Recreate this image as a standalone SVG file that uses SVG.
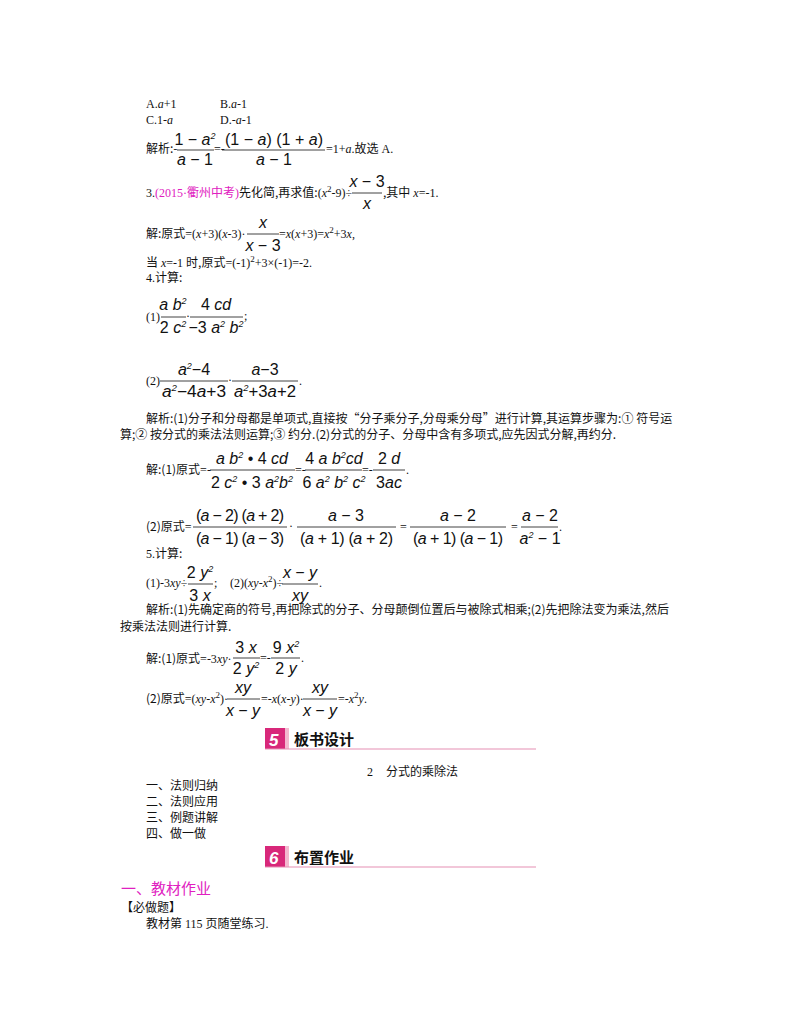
<svg xmlns="http://www.w3.org/2000/svg" width="800" height="1028" viewBox="0 0 800 1028">
<style>
text{font-family:"Liberation Serif","Noto Sans CJK SC",serif;font-size:12px;fill:#111}
.m{font-family:"Liberation Sans","Noto Sans CJK SC",sans-serif;font-size:16px;font-style:italic}
.n{font-style:normal}
.s{font-size:9px}
.c{font-family:"Noto Sans CJK SC",sans-serif}
.pk{fill:#e020c0}
.h{font-family:"Noto Sans CJK SC",sans-serif;font-size:15px;font-weight:bold}
.num{font-family:"Liberation Sans",sans-serif;font-size:17px;font-weight:bold;font-style:italic;fill:#fff}
line.b{stroke:#111;stroke-width:0.8}
</style>
<rect width="800" height="1028" fill="#fff"/>
<g id="q2">
<text x="146" y="108">A.<tspan font-style="italic">a</tspan>+1</text>
<text x="220" y="108">B.<tspan font-style="italic">a</tspan>-1</text>
<text x="146" y="124">C.1-<tspan font-style="italic">a</tspan></text>
<text x="220" y="124">D.-<tspan font-style="italic">a</tspan>-1</text>
<text x="146" y="153" class="c">解析:-</text>
<text x="195" y="145" class="m" text-anchor="middle"><tspan class="n">1 − </tspan>a<tspan class="s" dy="-6">2</tspan></text>
<line class="b" x1="177" y1="150" x2="214" y2="150"/>
<text x="195" y="165" class="m" text-anchor="middle">a<tspan class="n"> − 1</tspan></text>
<text x="214" y="153">=-</text>
<text x="225" y="145" class="m" textLength="98" lengthAdjust="spacing"><tspan class="n">(1 − </tspan>a<tspan class="n">)  (1 + </tspan>a<tspan class="n">)</tspan></text>
<line class="b" x1="222" y1="150" x2="325" y2="150"/>
<text x="274" y="165" class="m" text-anchor="middle">a<tspan class="n"> − 1</tspan></text>
<text x="326" y="153">=1+<tspan font-style="italic">a</tspan>.<tspan class="c">故选</tspan> A.</text>
</g>
<g id="q3">
<text x="146" y="197">3.<tspan class="pk">(2015·<tspan class="c">衢州中考</tspan>)</tspan><tspan class="c">先化简,再求值:</tspan>(<tspan font-style="italic">x</tspan><tspan class="s" dy="-5">2</tspan><tspan dy="5">-9)÷</tspan></text>
<text x="367" y="187" class="m" text-anchor="middle">x<tspan class="n"> − 3</tspan></text>
<line class="b" x1="352" y1="193" x2="382" y2="193"/>
<text x="367" y="209" class="m" text-anchor="middle">x</text>
<text x="383" y="197"><tspan class="c">,其中</tspan> <tspan font-style="italic">x</tspan>=-1.</text>
<text x="146" y="238"><tspan class="c">解:原式</tspan>=(<tspan font-style="italic">x</tspan>+3)(<tspan font-style="italic">x</tspan>-3)·</text>
<text x="263" y="228" class="m" text-anchor="middle">x</text>
<line class="b" x1="247" y1="234" x2="279" y2="234"/>
<text x="263" y="251" class="m" text-anchor="middle">x<tspan class="n"> − 3</tspan></text>
<text x="279" y="238">=<tspan font-style="italic">x</tspan>(<tspan font-style="italic">x</tspan>+3)=<tspan font-style="italic">x</tspan><tspan class="s" dy="-5">2</tspan><tspan dy="5">+3</tspan><tspan font-style="italic">x</tspan>,</text>
<text x="146" y="267"><tspan class="c">当</tspan> <tspan font-style="italic">x</tspan>=-1 <tspan class="c">时,原式</tspan>=(-1)<tspan class="s" dy="-5">2</tspan><tspan dy="5">+3×(-1)=-2.</tspan></text>
</g>
<g id="q4">
<text x="146" y="282">4.<tspan class="c">计算:</tspan></text>
<text x="146" y="321">(1)</text>
<text x="173" y="310" class="m" text-anchor="middle">a b<tspan class="s" dy="-6">2</tspan></text>
<line class="b" x1="161" y1="317" x2="186" y2="317"/>
<text x="173" y="333" class="m" text-anchor="middle"><tspan class="n">2 </tspan>c<tspan class="s" dy="-6">2</tspan></text>
<text x="186" y="320">·</text>
<text x="216" y="310" class="m" text-anchor="middle"><tspan class="n">4 </tspan>cd</text>
<line class="b" x1="190" y1="317" x2="243" y2="317"/>
<text x="216" y="333" class="m" text-anchor="middle"><tspan class="n">−3 </tspan>a<tspan class="s" dy="-6">2</tspan><tspan dy="6"> b</tspan><tspan class="s" dy="-6">2</tspan></text>
<text x="244" y="320">;</text>
<text x="146" y="385">(2)</text>
<text x="194" y="375" class="m" text-anchor="middle">a<tspan class="s" dy="-6">2</tspan><tspan class="n" dy="6">−4</tspan></text>
<line class="b" x1="160" y1="381" x2="228" y2="381"/>
<text x="162" y="397" class="m" textLength="64" lengthAdjust="spacingAndGlyphs">a<tspan class="s" dy="-6">2</tspan><tspan class="n" dy="6">−4</tspan>a<tspan class="n">+3</tspan></text>
<text x="228" y="384">·</text>
<text x="265" y="375" class="m" text-anchor="middle">a<tspan class="n">−3</tspan></text>
<line class="b" x1="232" y1="381" x2="298" y2="381"/>
<text x="234" y="397" class="m" textLength="62" lengthAdjust="spacingAndGlyphs">a<tspan class="s" dy="-6">2</tspan><tspan class="n" dy="6">+3</tspan>a<tspan class="n">+2</tspan></text>
<text x="299" y="385">.</text>
<text x="146" y="423" class="c">解析:(1)分子和分母都是单项式,直接按“分子乘分子,分母乘分母”进行计算,其运算步骤为:① 符号运</text>
<text x="120" y="439" class="c">算;② 按分式的乘法法则运算;③ 约分.(2)分式的分子、分母中含有多项式,应先因式分解,再约分.</text>
<text x="146" y="474"><tspan class="c">解:(1)原式</tspan>=-</text>
<text x="252" y="464" class="m" text-anchor="middle">a b<tspan class="s" dy="-6">2</tspan><tspan class="n" dy="6">  •  4 </tspan>cd</text>
<line class="b" x1="210" y1="470" x2="295" y2="470"/>
<text x="252" y="488" class="m" text-anchor="middle"><tspan class="n">2 </tspan>c<tspan class="s" dy="-6">2</tspan><tspan class="n" dy="6">  •  3 </tspan>a<tspan class="s" dy="-6">2</tspan><tspan dy="6">b</tspan><tspan class="s" dy="-6">2</tspan></text>
<text x="295" y="474">=-</text>
<text x="334" y="464" class="m" text-anchor="middle"><tspan class="n">4 </tspan>a b<tspan class="s" dy="-6">2</tspan><tspan dy="6">cd</tspan></text>
<line class="b" x1="305" y1="470" x2="362" y2="470"/>
<text x="334" y="488" class="m" text-anchor="middle"><tspan class="n">6 </tspan>a<tspan class="s" dy="-6">2</tspan><tspan dy="6"> b</tspan><tspan class="s" dy="-6">2</tspan><tspan dy="6"> c</tspan><tspan class="s" dy="-6">2</tspan></text>
<text x="362" y="474">=-</text>
<text x="389" y="464" class="m" text-anchor="middle"><tspan class="n">2 </tspan>d</text>
<line class="b" x1="373" y1="470" x2="405" y2="470"/>
<text x="389" y="488" class="m" text-anchor="middle"><tspan class="n">3</tspan>ac</text>
<text x="406" y="474">.</text>
<text x="146" y="531"><tspan class="c">(2)原式</tspan>=</text>
<text x="196" y="521" class="m" textLength="88" lengthAdjust="spacing"><tspan class="n">(</tspan>a<tspan class="n"> − 2)  (</tspan>a<tspan class="n"> + 2)</tspan></text>
<line class="b" x1="193" y1="527" x2="287" y2="527"/>
<text x="196" y="544" class="m" textLength="88" lengthAdjust="spacing"><tspan class="n">(</tspan>a<tspan class="n"> − 1)  (</tspan>a<tspan class="n"> − 3)</tspan></text>
<text x="289" y="530">·</text>
<text x="346" y="521" class="m" text-anchor="middle">a<tspan class="n"> − 3</tspan></text>
<line class="b" x1="297" y1="527" x2="396" y2="527"/>
<text x="300" y="544" class="m" textLength="93" lengthAdjust="spacing"><tspan class="n">(</tspan>a<tspan class="n"> + 1)  (</tspan>a<tspan class="n"> + 2)</tspan></text>
<text x="400" y="531">=</text>
<text x="458" y="521" class="m" text-anchor="middle">a<tspan class="n"> − 2</tspan></text>
<line class="b" x1="410" y1="527" x2="506" y2="527"/>
<text x="413" y="544" class="m" textLength="90" lengthAdjust="spacing"><tspan class="n">(</tspan>a<tspan class="n"> + 1)  (</tspan>a<tspan class="n"> − 1)</tspan></text>
<text x="511" y="531">=</text>
<text x="540" y="521" class="m" text-anchor="middle">a<tspan class="n"> − 2</tspan></text>
<line class="b" x1="521" y1="527" x2="558" y2="527"/>
<text x="540" y="544" class="m" text-anchor="middle">a<tspan class="s" dy="-6">2</tspan><tspan class="n" dy="6"> − 1</tspan></text>
<text x="559" y="531">.</text>
</g>
<g id="q5">
<text x="146" y="558">5.<tspan class="c">计算:</tspan></text>
<text x="146" y="587">(1)-3<tspan font-style="italic">xy</tspan>÷</text>
<text x="200" y="578" class="m" text-anchor="middle"><tspan class="n">2 </tspan>y<tspan class="s" dy="-6">2</tspan></text>
<line class="b" x1="188" y1="584" x2="213" y2="584"/>
<text x="200" y="601" class="m" text-anchor="middle"><tspan class="n">3 </tspan>x</text>
<text x="214" y="587">;</text>
<text x="230" y="587">(2)(<tspan font-style="italic">xy</tspan>-<tspan font-style="italic">x</tspan><tspan class="s" dy="-5">2</tspan><tspan dy="5">)÷</tspan></text>
<text x="300" y="578" class="m" text-anchor="middle">x <tspan class="n">−</tspan> y</text>
<line class="b" x1="282" y1="584" x2="318" y2="584"/>
<text x="300" y="601" class="m" text-anchor="middle">xy</text>
<text x="319" y="587">.</text>
<text x="146" y="614" class="c">解析:(1)先确定商的符号,再把除式的分子、分母颠倒位置后与被除式相乘;(2)先把除法变为乘法,然后</text>
<text x="120" y="631" class="c">按乘法法则进行计算.</text>
<text x="146" y="663"><tspan class="c">解:(1)原式</tspan>=-3<tspan font-style="italic">xy</tspan>·</text>
<text x="246" y="653" class="m" text-anchor="middle"><tspan class="n">3 </tspan>x</text>
<line class="b" x1="233" y1="658" x2="260" y2="658"/>
<text x="246" y="674" class="m" text-anchor="middle"><tspan class="n">2 </tspan>y<tspan class="s" dy="-6">2</tspan></text>
<text x="260" y="662">=-</text>
<text x="286" y="653" class="m" text-anchor="middle"><tspan class="n">9 </tspan>x<tspan class="s" dy="-6">2</tspan></text>
<line class="b" x1="271" y1="658" x2="300" y2="658"/>
<text x="286" y="674" class="m" text-anchor="middle"><tspan class="n">2 </tspan>y</text>
<text x="301" y="662">.</text>
<text x="146" y="703"><tspan class="c">(2)原式</tspan>=(<tspan font-style="italic">xy</tspan>-<tspan font-style="italic">x</tspan><tspan class="s" dy="-5">2</tspan><tspan dy="5">)·</tspan></text>
<text x="243" y="693" class="m" text-anchor="middle">xy</text>
<line class="b" x1="227" y1="699" x2="260" y2="699"/>
<text x="243" y="716" class="m" text-anchor="middle">x <tspan class="n">−</tspan> y</text>
<text x="261" y="703">=-<tspan font-style="italic">x</tspan>(<tspan font-style="italic">x</tspan>-<tspan font-style="italic">y</tspan>)·</text>
<text x="320" y="693" class="m" text-anchor="middle">xy</text>
<line class="b" x1="303" y1="699" x2="337" y2="699"/>
<text x="320" y="716" class="m" text-anchor="middle">x <tspan class="n">−</tspan> y</text>
<text x="338" y="703">=-<tspan font-style="italic">x</tspan><tspan class="s" dy="-5">2</tspan><tspan dy="5" font-style="italic">y</tspan>.</text>
</g>
<g id="sec5">
<rect x="265" y="728" width="20" height="21" fill="#d8287a"/>
<text x="269" y="746" class="num">5</text>
<rect x="285" y="728" width="4" height="21" fill="#f3b8cf"/>
<line x1="265" y1="749" x2="536" y2="749" stroke="#e690b3" stroke-width="1.2"/>
<text x="294" y="745" class="h">板书设计</text>
<text x="367" y="776">2 <tspan class="c" dx="10">分式的乘除法</tspan></text>
<text x="146" y="790" class="c">一、法则归纳</text>
<text x="146" y="806" class="c">二、法则应用</text>
<text x="146" y="822" class="c">三、例题讲解</text>
<text x="146" y="838" class="c">四、做一做</text>
</g>
<g id="sec6">
<rect x="265" y="846" width="20" height="21" fill="#d8287a"/>
<text x="269" y="864" class="num">6</text>
<rect x="285" y="846" width="4" height="21" fill="#f3b8cf"/>
<line x1="265" y1="867" x2="536" y2="867" stroke="#e690b3" stroke-width="1.2"/>
<text x="294" y="863" class="h">布置作业</text>
<text x="121" y="894" class="c pk" style="font-size:15px">一、教材作业</text>
<text x="121" y="912" class="c">【必做题】</text>
<text x="146" y="928"><tspan class="c">教材第</tspan> 115 <tspan class="c">页随堂练习</tspan>.</text>
</g>
</svg>
